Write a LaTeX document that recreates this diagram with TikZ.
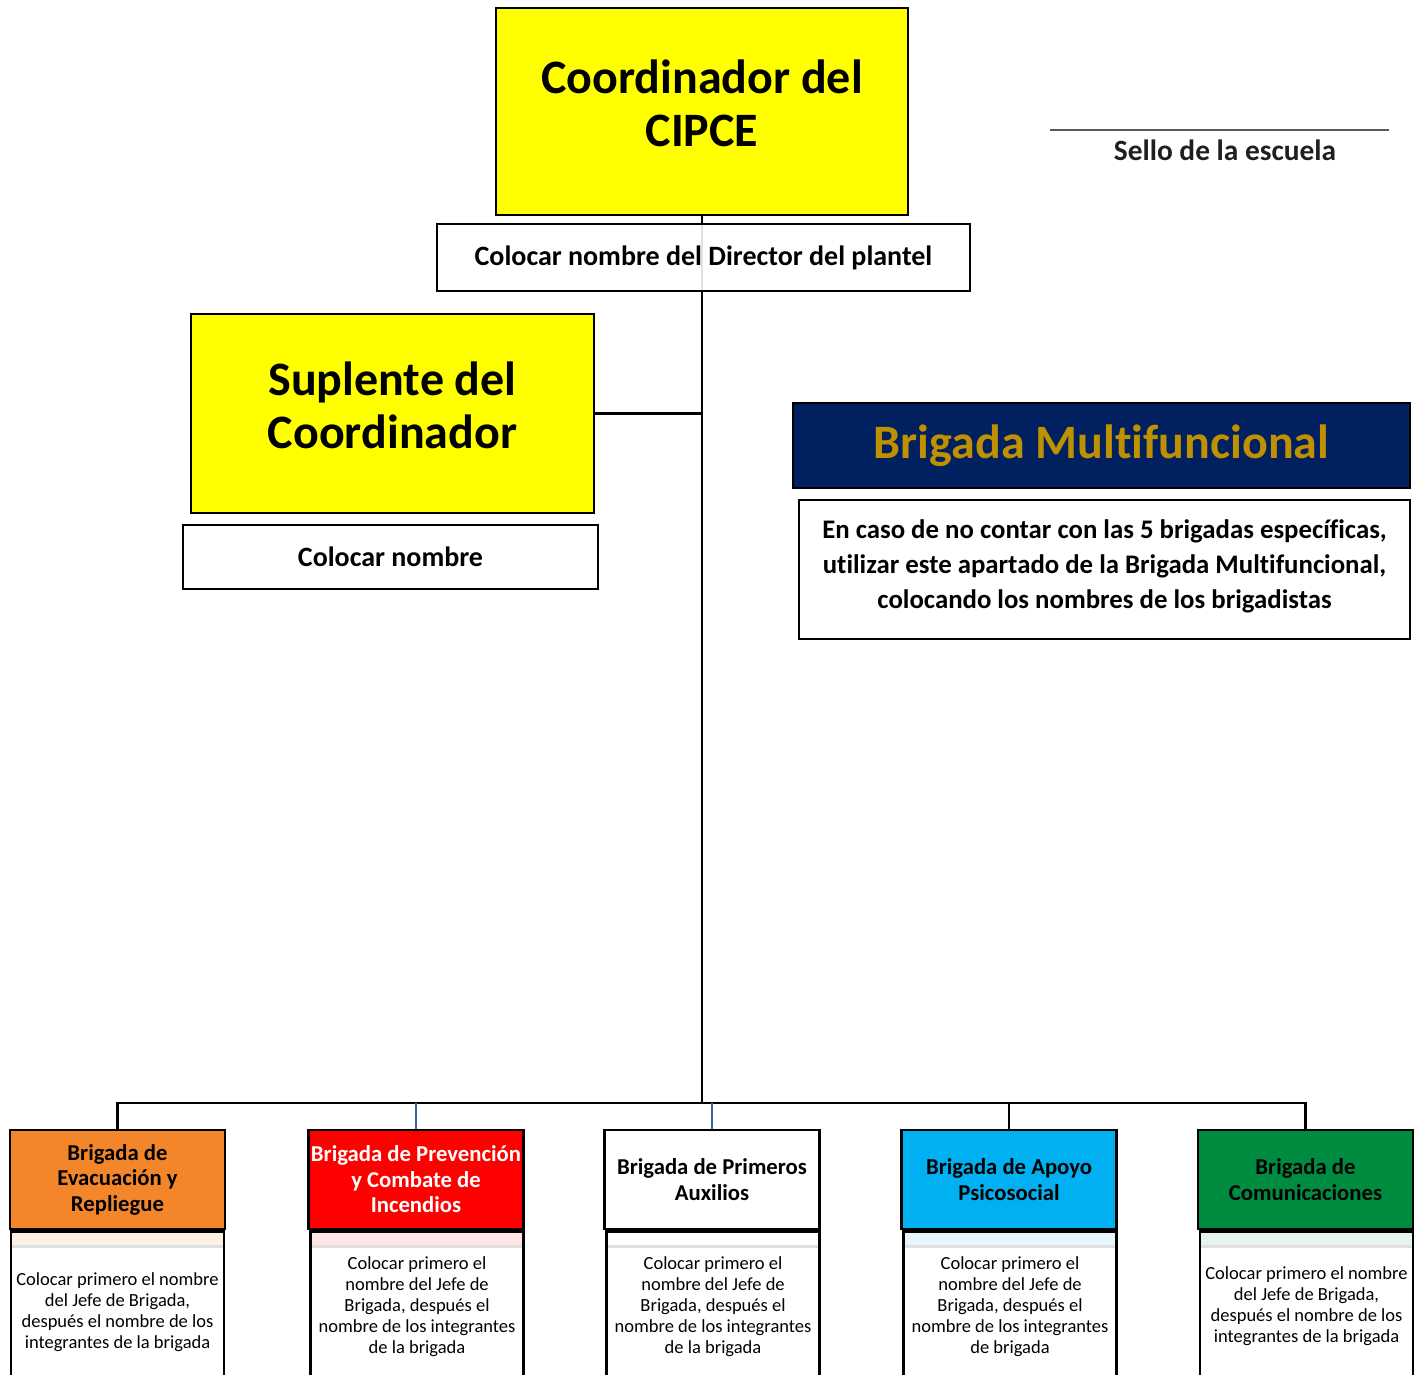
\documentclass[tikz,border=0pt]{standalone}
\usepackage{fontspec}
\setmainfont[Ligatures=NoCommon]{Carlito}
\usetikzlibrary{positioning, backgrounds}

\definecolor{amarillo}{HTML}{FFFF00}
\definecolor{naranja}{HTML}{F3862B}
\definecolor{rojo}{HTML}{FF0000}
\definecolor{celeste}{HTML}{00B0F0}
\definecolor{verde}{HTML}{008C40}
\definecolor{marino}{HTML}{002060}
\definecolor{dorado}{HTML}{BF9000}
\definecolor{azulLinea}{HTML}{3E64A8}

\begin{document}
\begin{tikzpicture}[
        x=1pt, y=-1pt,
        caja/.style={draw=black, line width=2.5pt, align=center, inner sep=0pt},
        titulo/.style={caja, fill=amarillo, text depth=16pt, font=\bfseries\fontsize{48}{53}\selectfont},
        nombre/.style={caja, fill=white, font=\bfseries\fontsize{28}{33}\selectfont},
        brigada/.style={caja, minimum width=215pt, minimum height=99pt, font=\bfseries\fontsize{22.7}{25.5}\selectfont},
        integrantes/.style={caja, anchor=north, minimum width=213pt, minimum height=150pt, font=\fontsize{18.5}{21}\selectfont,
            path picture={
                \fill[#1] (path picture bounding box.north west) rectangle ([yshift=-13pt]path picture bounding box.north east);
                \draw[black!12, line width=3pt] ([yshift=-14.5pt]path picture bounding box.north west) -- ([yshift=-14.5pt]path picture bounding box.north east);
            }},
        linea/.style={draw=black, line width=2.8pt},
        lineaAzul/.style={draw=azulLinea, line width=2.5pt}
    ]
        \useasboundingbox (0,0) rectangle (1427,1374);
        \clip (0,0) rectangle (1427,1374);

        % Nodes
        \node[titulo, minimum width=412pt, minimum height=207pt] (coord) at (702,111.5) {Coordinador del\\CIPCE};
        \node[nombre, minimum width=533pt, minimum height=67pt, fill opacity=0.88, text opacity=1] (director) at (703.5,257.5) {Colocar nombre del Director del plantel};
        \node[titulo, minimum width=403pt, minimum height=199pt] (suplente) at (392.5,413.5) {Suplente del\\Coordinador};
        \node[nombre, minimum width=415pt, minimum height=64pt] (supnombre) at (390.5,557) {Colocar nombre};

        \node[caja, line width=2pt, fill=marino, text=dorado, minimum width=617pt, minimum height=85pt, font=\bfseries\fontsize{48}{55}\selectfont] (multi) at (1101.5,445.5) {Brigada Multifuncional};
        \node[caja, line width=2pt, fill=white, minimum width=611pt, minimum height=139pt, text depth=10pt, font=\bfseries\fontsize{26.8}{35}\selectfont] (multitexto) at (1104.5,569.5) {En caso de no contar con las 5 brigadas específicas,\\utilizar este apartado de la Brigada Multifuncional,\\colocando los nombres de los brigadistas};

        % Sello
        \coordinate (selloA) at (1050,130);
        \coordinate (selloB) at (1389,130);
        \draw[black!65, line width=1.5pt] (selloA) -- (selloB);
        \node[font=\bfseries\fontsize{29.4}{34}\selectfont, text=black!88] (sello) at (1225,150) {Sello de la escuela};

        % Brigadas
        \node[brigada, fill=naranja] (evac) at (117.5,1179.5) {Brigada de\\Evacuación y\\Repliegue};
        \node[brigada, fill=rojo, text=white] (incend) at (416,1179.5) {Brigada de Prevención\\y Combate de\\Incendios};
        \node[brigada, fill=white] (auxilios) at (712,1179.5) {Brigada de Primeros\\Auxilios};
        \node[brigada, fill=celeste] (apoyo) at (1009,1179.5) {Brigada de Apoyo\\Psicosocial};
        \node[brigada, fill=verde] (comun) at (1305.5,1179.5) {Brigada de\\Comunicaciones};

        \node[integrantes=naranja!12, minimum height=162pt] (evacint) at (evac.south) {Colocar primero el nombre\\del Jefe de Brigada,\\después el nombre de los\\integrantes de la brigada};
        \node[integrantes=rojo!10] (incendint) at ([xshift=1pt]incend.south) {Colocar primero el\\nombre del Jefe de\\Brigada, después el\\nombre de los integrantes\\de la brigada};
        \node[integrantes=white] (auxint) at ([xshift=1pt]auxilios.south) {Colocar primero el\\nombre del Jefe de\\Brigada, después el\\nombre de los integrantes\\de la brigada};
        \node[integrantes=celeste!10] (apoyoint) at ([xshift=1pt]apoyo.south) {Colocar primero el\\nombre del Jefe de\\Brigada, después el\\nombre de los integrantes\\de brigada};
        \node[integrantes=verde!10] (comunint) at ([xshift=1pt]comun.south) {Colocar primero el nombre\\del Jefe de Brigada,\\después el nombre de los\\integrantes de la brigada};

        \coordinate (bus) at (702,1103);

        % Lines
        \begin{scope}[on background layer]
            \draw[linea] (coord.south) -- (bus);
            \draw[linea] (suplente.east) -- (suplente.east -| bus);
            \draw[linea] (evac.north) |- (bus) -| (comun.north);
            \draw[linea] (apoyo.north) -- (apoyo.north |- bus);
            \draw[lineaAzul] (incend.north) -- (incend.north |- bus);
            \draw[lineaAzul] (auxilios.north) -- (auxilios.north |- bus);
        \end{scope}
    \end{tikzpicture}
\end{document}
